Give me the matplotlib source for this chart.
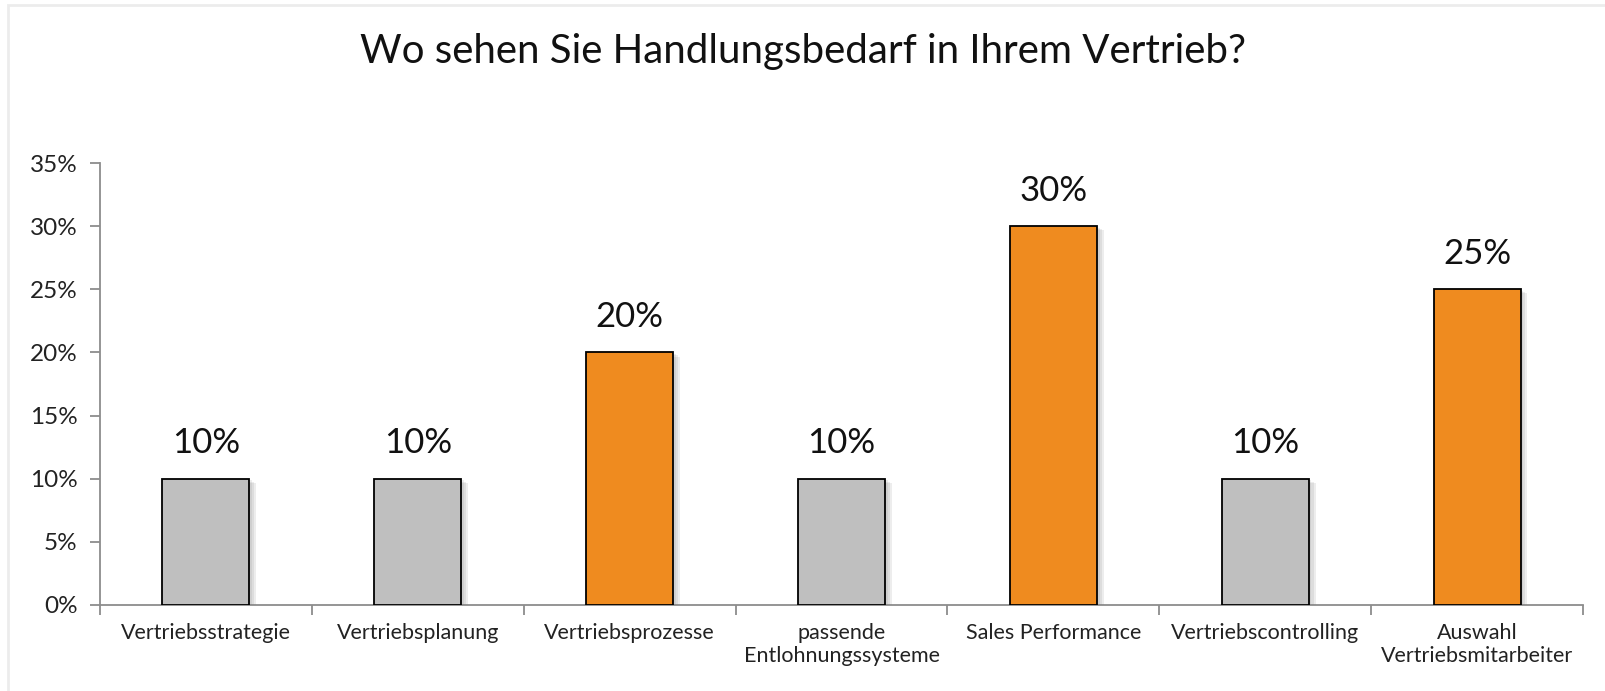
import matplotlib

matplotlib.use("Agg")
import matplotlib.pyplot as plt
import matplotlib.patheffects as pe
import numpy as np
from matplotlib.patches import Rectangle
from matplotlib.ticker import FixedLocator, PercentFormatter

CATEGORIES = [
    "Vertriebsstrategie",
    "Vertriebsplanung",
    "Vertriebsprozesse",
    "passende\nEntlohnungssysteme",
    "Sales Performance",
    "Vertriebscontrolling",
    "Auswahl\nVertriebsmitarbeiter",
]
SHARES = [10, 10, 20, 10, 30, 10, 25]
HIGHLIGHT = [False, False, True, False, True, False, True]
TITLE = "Wo sehen Sie Handlungsbedarf in Ihrem Vertrieb?"

GREY = "#bfbfbf"
ORANGE = "#ef8b1f"
AXIS = "#8c8c8c"

plt.rcParams["font.family"] = ["Lato", "DejaVu Sans"]

fig = plt.figure(figsize=(16.05, 6.91), dpi=100)
# light frame of the original slide (top and left edges visible)
fig.patches.append(
    Rectangle((0.0047, -0.1), 1.2, 1.093, transform=fig.transFigure,
              fill=False, edgecolor="#ececec", linewidth=2.0)
)
ax = fig.add_axes([0.0623, 0.1245, 0.924, 0.6396])

x = np.arange(len(CATEGORIES))
colors = [ORANGE if h else GREY for h in HIGHLIGHT]
bars = ax.bar(x, SHARES, width=0.41, color=colors, edgecolor="black", linewidth=1.3, zorder=3)
# soft drop shadow: a few stacked translucent offsets
shadow = [
    pe.SimplePatchShadow(offset=(off, -off * 0.6), shadow_rgbFace="#808080", alpha=0.14)
    for off in (5, 3.5, 2)
]
for bar in bars:
    bar.set_path_effects(shadow + [pe.Normal()])

for xi, value in zip(x, SHARES):
    ax.annotate(f"{value}%", (xi, value), xytext=(0, 14), textcoords="offset points",
                ha="center", va="bottom", fontsize=25, color="#111111")

ax.set_xlim(-0.5, len(CATEGORIES) - 0.5)
ax.set_ylim(0, 35)
ax.yaxis.set_major_locator(FixedLocator(np.arange(0, 36, 5)))
ax.yaxis.set_major_formatter(PercentFormatter(decimals=0))

ax.xaxis.set_major_locator(FixedLocator(np.arange(-0.5, len(CATEGORIES), 1.0)))
ax.xaxis.set_major_formatter(plt.NullFormatter())
ax.xaxis.set_minor_locator(FixedLocator(x))
ax.set_xticklabels(CATEGORIES, minor=True)
ax.tick_params(axis="x", which="minor", length=0, pad=13, labelsize=15.5, colors="#222222")
ax.tick_params(axis="x", which="major", length=7, width=1.3, color=AXIS, direction="out")
ax.tick_params(axis="y", length=7, width=1.3, color=AXIS, labelsize=17.5, labelcolor="#222222", pad=9)

for side in ("top", "right"):
    ax.spines[side].set_visible(False)
for side in ("left", "bottom"):
    ax.spines[side].set_color(AXIS)
    ax.spines[side].set_linewidth(1.3)

fig.text(0.5, 0.926, TITLE, ha="center", va="center", fontsize=29, color="#111111")

fig.savefig("out.png", dpi=100)
